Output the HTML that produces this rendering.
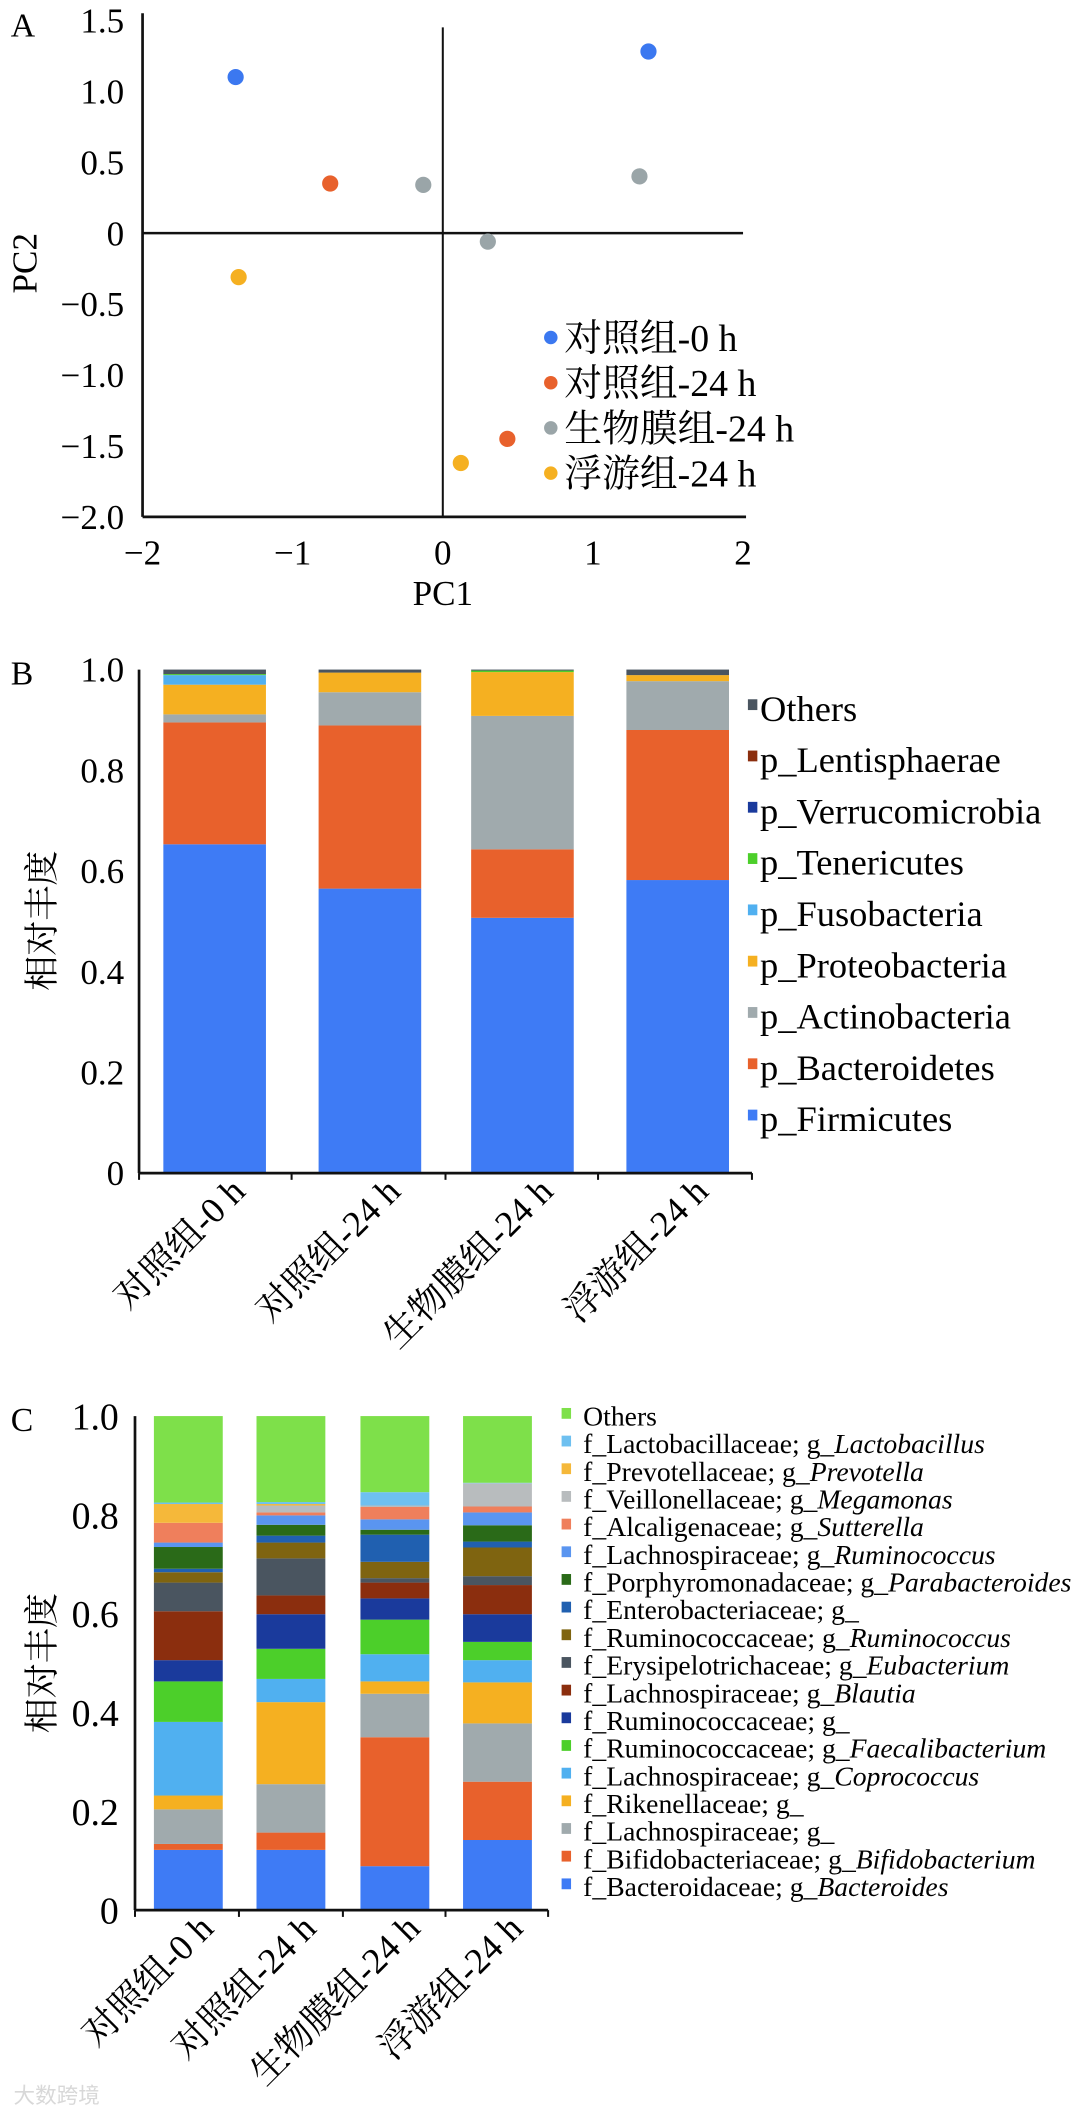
<!DOCTYPE html>
<html><head><meta charset="utf-8"><style>
html,body{margin:0;padding:0;background:#fff;}
svg{display:block;font-family:"Liberation Serif","Noto Serif CJK SC","Noto Sans CJK SC",serif;}
</style></head><body>
<svg id="fig" width="1080" height="2114" viewBox="0 0 800 1566" preserveAspectRatio="none" xmlns="http://www.w3.org/2000/svg"></svg>
<script>
// ===== Panel A data =====
const pcaGroups = ["对照组-0 h","对照组-24 h","生物膜组-24 h","浮游组-24 h"];
const pcaColors = ["#3b78f0","#e8612c","#9aa5a8","#f5b021"];
const pcaGroupIdx = [0,0,1,1,2,2,2,3,3];
const pcaX = [-1.38,1.37,-0.75,0.43,-0.13,1.31,0.30,-1.36,0.12];
const pcaY = [1.10,1.28,0.35,-1.45,0.34,0.40,-0.06,-0.31,-1.62];
const pcaXTicks = [-2,-1,0,1,2];
const pcaYTicks = [1.5,1.0,0.5,0,-0.5,-1.0,-1.5,-2.0];
const pcaYTickLabels = ["1.5","1.0","0.5","0","\u22120.5","\u22121.0","\u22121.5","\u22122.0"];
const pcaXTickLabels = ["\u22122","\u22121","0","1","2"];

// ===== Panel B data =====
const groups = ["对照组-0 h","对照组-24 h","生物膜组-24 h","浮游组-24 h"];
const phylaNames = ["p_Firmicutes","p_Bacteroidetes","p_Actinobacteria","p_Proteobacteria","p_Fusobacteria","p_Tenericutes","p_Verrucomicrobia","p_Lentisphaerae","Others"];
const phylaColors = ["#3e7bf5","#e8612c","#a0aaad","#f5b021","#50b0f0","#4ccf2a","#1a3a9c","#8b2e0e","#4a5560"];
const firmicutes = [0.653,0.565,0.507,0.582];
const bacteroidetes = [0.242,0.324,0.136,0.298];
const actinobacteria = [0.016,0.066,0.265,0.097];
const proteobacteria = [0.059,0.039,0.087,0.012];
const fusobacteria = [0.019,0.000,0.000,0.000];
const tenericutes = [0.002,0.000,0.003,0.000];
const verrucomicrobia = [0.000,0.000,0.000,0.000];
const lentisphaerae = [0.000,0.000,0.000,0.000];
const othersB = [0.009,0.006,0.002,0.011];
const phylaSeries = [firmicutes,bacteroidetes,actinobacteria,proteobacteria,fusobacteria,tenericutes,verrucomicrobia,lentisphaerae,othersB];
const barYTicks = [0,0.2,0.4,0.6,0.8,1.0];
const barYTickLabels = ["0","0.2","0.4","0.6","0.8","1.0"];

// ===== Panel C data =====
const genusNames = [
 ["f_Bacteroidaceae; g_","Bacteroides"],["f_Bifidobacteriaceae; g_","Bifidobacterium"],["f_Lachnospiraceae; g_",""],
 ["f_Rikenellaceae; g_",""],["f_Lachnospiraceae; g_","Coprococcus"],["f_Ruminococcaceae; g_","Faecalibacterium"],
 ["f_Ruminococcaceae; g_",""],["f_Lachnospiraceae; g_","Blautia"],["f_Erysipelotrichaceae; g_","Eubacterium"],
 ["f_Ruminococcaceae; g_","Ruminococcus"],["f_Enterobacteriaceae; g_",""],["f_Porphyromonadaceae; g_","Parabacteroides"],
 ["f_Lachnospiraceae; g_","Ruminococcus"],["f_Alcaligenaceae; g_","Sutterella"],["f_Veillonellaceae; g_","Megamonas"],
 ["f_Prevotellaceae; g_","Prevotella"],["f_Lactobacillaceae; g_","Lactobacillus"],["Others",""]];
const genusColors = ["#3e7bf5","#e8612c","#a0aaad","#f5b021","#50b0f0","#4ccf2a","#1a3a9c","#8b2e0e","#4a5560","#7f6410","#2060b0","#2a6a18","#5a95f0","#ef7f5c","#b8bcbe","#f5b83a","#6ec0f0","#7ee04a"];
const gBacteroides = [0.122,0.122,0.089,0.142];
const gBifido = [0.012,0.035,0.261,0.118];
const gLachno = [0.070,0.098,0.088,0.118];
const gRiken = [0.028,0.166,0.025,0.083];
const gCopro = [0.149,0.047,0.055,0.045];
const gFaecali = [0.082,0.061,0.070,0.037];
const gRuminoG = [0.043,0.070,0.043,0.056];
const gBlautia = [0.099,0.038,0.032,0.059];
const gEubac = [0.058,0.075,0.009,0.018];
const gRuminoR = [0.021,0.032,0.033,0.058];
const gEntero = [0.007,0.014,0.055,0.012];
const gParab = [0.044,0.022,0.010,0.033];
const gLachnoR = [0.009,0.019,0.021,0.026];
const gSutter = [0.040,0.006,0.025,0.012];
const gMega = [0.000,0.014,0.003,0.047];
const gPrevot = [0.038,0.003,0.000,0.000];
const gLacto = [0.003,0.004,0.027,0.001];
const gOthers = [0.175,0.174,0.154,0.135];
const genusSeries = [gBacteroides,gBifido,gLachno,gRiken,gCopro,gFaecali,gRuminoG,gBlautia,gEubac,gRuminoR,gEntero,gParab,gLachnoR,gSutter,gMega,gPrevot,gLacto,gOthers];

const NS = "http://www.w3.org/2000/svg";
const FONT = '"Liberation Serif","Noto Serif CJK SC","Noto Sans CJK SC",serif';
const svg = document.getElementById('fig');
function mk(tag, attrs, parent, text){
  const e = document.createElementNS(NS, tag);
  if (tag === 'text') e.setAttribute('font-family', FONT);
  for (const k in attrs) e.setAttribute(k, attrs[k]);
  if (text !== undefined) e.textContent = text;
  (parent||svg).appendChild(e);
  return e;
}

// ---------- Panel A ----------
const gA = mk('g',{});


const ax = v => 328 + v*111.2;
const ay = v => 172.7 - v*105.1;
let t = mk('text',{x:8,y:27,'font-size':25},gA,'A');
 
let l = mk('line',{x1:ax(-2),y1:ay(1.55),x2:ax(-2),y2:ay(-2),stroke:'#111','stroke-width':2},gA);
 
l = mk('line',{x1:ax(-2),y1:ay(-2),x2:ax(2.02),y2:ay(-2),stroke:'#111','stroke-width':2},gA);
 
l = mk('line',{x1:ax(0),y1:ay(1.45),x2:ax(0),y2:ay(-2),stroke:'#111','stroke-width':1.5},gA);
 
l = mk('line',{x1:ax(-2),y1:ay(0),x2:ax(2),y2:ay(0),stroke:'#111','stroke-width':1.8},gA);
 
pcaYTicks.forEach((v,i)=>{
  const e = mk('text',{x:92,y:ay(v)+9,'font-size':26,'text-anchor':'end'},gA,pcaYTickLabels[i]);
   
});
pcaXTicks.forEach((v,i)=>{
  const e = mk('text',{x:ax(v),y:418,'font-size':26,'text-anchor':'middle'},gA,pcaXTickLabels[i]);
   
});
t = mk('text',{x:ax(0),y:448,'font-size':26,'text-anchor':'middle'},gA,'PC1');
 
t = mk('text',{x:0,y:0,'font-size':26,'text-anchor':'middle',transform:'translate(27,195) rotate(-90)'},gA,'PC2');
 
pcaX.forEach((v,i)=>{
  const c = mk('circle',{cx:ax(v),cy:ay(pcaY[i]),r:6,fill:pcaColors[pcaGroupIdx[i]]},gA);
  
  
});
pcaGroups.forEach((g,i)=>{
  const y = 250 + i*33.5;
  const c = mk('circle',{cx:408,cy:y,r:5,fill:pcaColors[i]},gA);
   
  const e = mk('text',{x:418,y:y+10,'font-size':28},gA,g);
   
});

// ---------- Panel B ----------
const gB = mk('g',{});


const by = v => 869 - v*373;
const barBX = [121,236,349,464];
const bw = 76;
t = mk('text',{x:8,y:507,'font-size':25},gB,'B');
 
groups.forEach((g,i)=>{
  let acc = 0;
  phylaSeries.forEach((s,k)=>{
    const v = s[i];
    if (v>0){
      const r = mk('rect',{x:barBX[i],y:by(acc+v),width:bw,height:v*373,fill:phylaColors[k]},gB);
       
    }
    acc += v;
  });
  const e = mk('text',{x:0,y:0,'font-size':27,'text-anchor':'end',transform:`translate(${barBX[i]+bw/2+24},${884}) rotate(-45)`},gB,g);
   
});
l = mk('line',{x1:103,y1:by(1),x2:103,y2:by(0),stroke:'#111','stroke-width':2},gB);
 
l = mk('line',{x1:103,y1:by(0),x2:557,y2:by(0),stroke:'#111','stroke-width':2},gB);
 
[103,216,330,443,557].forEach(x=>{ const k=mk('line',{x1:x,y1:by(0),x2:x,y2:by(0)+5,stroke:'#111','stroke-width':1.5},gB);
   });
barYTicks.forEach((v,i)=>{
  const e = mk('text',{x:92,y:by(v)+9,'font-size':26,'text-anchor':'end'},gB,barYTickLabels[i]);
   
});
t = mk('text',{x:0,y:0,'font-size':26,'text-anchor':'middle',transform:'translate(40,682) rotate(-90)'},gB,'相对丰度');
 
for (let k=phylaNames.length-1, j=0; k>=0; k--, j++){
  const y = 525 + j*38;
  const r = mk('rect',{x:554,y:y-7,width:7,height:8,fill:phylaColors[k]},gB);
   
  const e = mk('text',{x:563,y:y+9,'font-size':27},gB,phylaNames[k]);
   
}

// ---------- Panel C ----------
const gC = mk('g',{});


const cy = v => 1415 - v*366;
const barCX = [114,190,267,343];
const cw = 51;
t = mk('text',{x:8,y:1060,'font-size':25},gC,'C');
 
groups.forEach((g,i)=>{
  let acc = 0;
  genusSeries.forEach((s,k)=>{
    const v = s[i];
    if (v>0){
      const r = mk('rect',{x:barCX[i],y:cy(acc+v),width:cw,height:v*366,fill:genusColors[k]},gC);
       
    }
    acc += v;
  });
  const e = mk('text',{x:0,y:0,'font-size':27,'text-anchor':'end',transform:`translate(${barCX[i]+cw/2+20},${1430}) rotate(-45)`},gC,g);
   
});
l = mk('line',{x1:100,y1:cy(1),x2:100,y2:cy(0),stroke:'#111','stroke-width':2},gC);
 
l = mk('line',{x1:100,y1:cy(0),x2:406,y2:cy(0),stroke:'#111','stroke-width':2},gC);
 
[100,177,254,330,406].forEach(x=>{ const k=mk('line',{x1:x,y1:cy(0),x2:x,y2:cy(0)+5,stroke:'#111','stroke-width':1.5},gC);
   });
barYTicks.forEach((v,i)=>{
  const e = mk('text',{x:88,y:cy(v)+10,'font-size':28,'text-anchor':'end'},gC,barYTickLabels[i]);
   
});
t = mk('text',{x:0,y:0,'font-size':26,'text-anchor':'middle',transform:'translate(40,1232) rotate(-90)'},gC,'相对丰度');
 
for (let k=genusNames.length-1, j=0; k>=0; k--, j++){
  const y = 1049 + j*20.5;
  const r = mk('rect',{x:416,y:y-6,width:7,height:8,fill:genusColors[k]},gC);
   
  const e = mk('text',{x:432,y:y+7,'font-size':20.5},gC);
   
  mk('tspan',{},e,genusNames[k][0]);
  if (genusNames[k][1]) mk('tspan',{'font-style':'italic'},e,genusNames[k][1]);
}
t = mk('text',{x:10,y:1558,'font-size':16,fill:'#d8d8d8','font-family':'"Noto Sans CJK SC",sans-serif'},svg,'大数跨境');
 
</script>
</body></html>
